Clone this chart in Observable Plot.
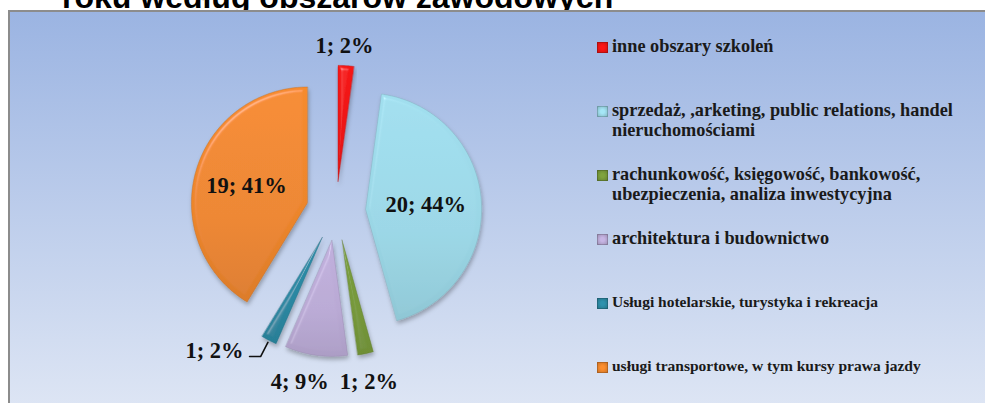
<!DOCTYPE html>
<html>
<head>
<meta charset="utf-8">
<script src="https://cdn.jsdelivr.net/npm/d3@7"></script>
<script src="https://cdn.jsdelivr.net/npm/@observablehq/plot@0.6"></script>
<style>
  html, body { margin: 0; padding: 0; }
  body { width: 985px; height: 403px; overflow: hidden; background: #ffffff; position: relative; }
  #title { position: absolute; left: 62px; top: -18.6px; font: bold 32px "Liberation Sans", Arial, sans-serif; line-height: 32px; white-space: nowrap; color: #000; }
  #box { position: absolute; left: 8px; top: 10px; width: 990px; height: 420px; box-sizing: border-box;
         border-left: 2px solid #8c8c8c; border-top: 2px solid #8c8c8c;
         background: linear-gradient(to bottom, #9bb4e2 0px, #dde5f4 393px); }
  #chart { position: absolute; left: 0; top: 0; }
  #legend { position: absolute; left: 597px; top: 35.6px; font-family: "Liberation Serif", "Times New Roman", serif; font-weight: bold; color: #1a1a1a; }
  .entry { height: 64px; display: flex; align-items: flex-start; }
  .swatch { width: 11px; height: 11px; margin-top: 6.4px; margin-right: 4px; flex: none; box-sizing: border-box; border: 1px solid rgba(0,0,0,0.2); }
  .lab { line-height: 20px; white-space: pre; }
</style>
</head>
<body>
<div id="title">roku według obszarów zawodowych</div>
<div id="box"></div>
<div id="chart"></div>
<div id="legend"></div>
<script>
// ---- data ----
const categories = [
  "inne obszary szkoleń",
  "sprzedaż, ,arketing, public relations, handel\nnieruchomościami",
  "rachunkowość, księgowość, bankowość,\nubezpieczenia, analiza inwestycyjna",
  "architektura i budownictwo",
  "Usługi hotelarskie, turystyka i rekreacja",
  "usługi transportowe, w tym kursy prawa jazdy"
];
const counts = [1, 20, 1, 4, 1, 19];
const percentLabels = ["2%", "44%", "2%", "9%", "2%", "41%"];
const colors = ["#ec1414", "#9ad6e5", "#76983a", "#b9a9d4", "#2b87a1", "#ec852c"];

// ---- layout / style (not data) ----
const explode = 0.256;                          // fraction of radius
const labelRadius = [1.17, 0.52, 1.24, 1.25, 1.157, 0.545];
const labelTurn = [-1.2, 0, 1, 5, 0, 0];          // degrees
const useLeader = [false, false, false, false, true, false];
const legendFontSizes = [18.3, 18.3, 18.3, 18.3, 15.5, 15.5];

const arcs = d3.pie().sort(null).value(d => d)(counts);
const slices = arcs.map((a, i) => {
  const mid = (a.startAngle + a.endAngle) / 2;
  const ox = explode * Math.sin(mid), oy = explode * Math.cos(mid);
  const pts = [{x: ox, y: oy}];
  const n = Math.max(3, Math.ceil((a.endAngle - a.startAngle) / (Math.PI / 180)));
  for (let k = 0; k <= n; k++) {
    const t = a.startAngle + (a.endAngle - a.startAngle) * k / n;
    pts.push({x: ox + Math.sin(t), y: oy + Math.cos(t)});
  }
  return {i, mid, ox, oy, pts};
});

const labels = [], leaderLabels = [], leaders = [];
slices.forEach(s => {
  const txt = `${counts[s.i]}; ${percentLabels[s.i]}`;
  const ang = s.mid + labelTurn[s.i] * Math.PI / 180;
  if (useLeader[s.i]) {
    const p0 = {x: s.ox + 1.02 * Math.sin(s.mid), y: s.oy + 1.02 * Math.cos(s.mid)};
    const p1 = {x: s.ox + labelRadius[s.i] * Math.sin(s.mid), y: s.oy + labelRadius[s.i] * Math.cos(s.mid)};
    const p2 = {x: p1.x - 0.095, y: p1.y};
    leaders.push(p0, p1, p2);
    leaderLabels.push({x: p2.x, y: p2.y, text: txt});
  } else {
    labels.push({x: s.ox + labelRadius[s.i] * Math.sin(ang), y: s.oy + labelRadius[s.i] * Math.cos(ang), text: txt});
  }
});

const cx = 335.5, cy = 210.5, R = 116;
const labelFont = {fontSize: 22.5, fontWeight: "bold", fontFamily: "'Liberation Serif', 'Times New Roman', serif", fill: "#111"};

const plot = Plot.plot({
  width: 985,
  height: 403,
  margin: 0,
  style: {background: "transparent", overflow: "visible"},
  x: {type: "linear", domain: [-1, 1], range: [cx - R, cx + R], axis: null},
  y: {type: "linear", domain: [-1, 1], range: [cy + R, cy - R], axis: null},
  marks: [
    ...slices.map(s => Plot.line(s.pts, {
      x: "x", y: "y", curve: "linear-closed",
      fill: `url(#grad${s.i})`, stroke: d3.color(colors[s.i]).darker(0.7).formatHex(), strokeWidth: 0.7, strokeOpacity: 0.55
    })),
    Plot.line(leaders, {x: "x", y: "y", stroke: "#111", strokeWidth: 1.6}),
    Plot.text(labels, {x: "x", y: "y", text: "text", ...labelFont}),
    Plot.text(leaderLabels, {x: "x", y: "y", text: "text", textAnchor: "end", dx: -6, dy: -6, ...labelFont})
  ]
});

// gradients + bevel + shadow
const svg = d3.select(plot);
const defs = svg.insert("defs", ":first-child");
colors.forEach((c, i) => {
  const g = defs.append("linearGradient").attr("id", `grad${i}`).attr("x1", 0).attr("y1", 0).attr("x2", 0).attr("y2", 1);
  g.append("stop").attr("offset", "0%").attr("stop-color", d3.color(c).brighter(0.12).formatHex());
  g.append("stop").attr("offset", "60%").attr("stop-color", c);
  g.append("stop").attr("offset", "100%").attr("stop-color", d3.color(c).darker(0.2).formatHex());
});
const f = defs.append("filter").attr("id", "bevel").attr("x", "-20%").attr("y", "-20%").attr("width", "140%").attr("height", "140%");
f.append("feGaussianBlur").attr("in", "SourceAlpha").attr("stdDeviation", 2.2).attr("result", "blur");
const spec = f.append("feSpecularLighting").attr("in", "blur").attr("surfaceScale", 4).attr("specularConstant", 0.55)
  .attr("specularExponent", 32).attr("lighting-color", "#ffffff").attr("result", "spec");
spec.append("feDistantLight").attr("azimuth", 235).attr("elevation", 42);
f.append("feComposite").attr("in", "spec").attr("in2", "SourceAlpha").attr("operator", "in").attr("result", "specIn");
f.append("feComposite").attr("in", "SourceGraphic").attr("in2", "specIn").attr("operator", "arithmetic")
  .attr("k1", 0).attr("k2", 1).attr("k3", 0.38).attr("k4", 0).attr("result", "lit");
f.append("feGaussianBlur").attr("in", "SourceAlpha").attr("stdDeviation", 2).attr("result", "sb");
f.append("feOffset").attr("in", "sb").attr("dx", 1).attr("dy", 2.5).attr("result", "so");
f.append("feFlood").attr("flood-color", "#000").attr("flood-opacity", 0.28).attr("result", "fl");
f.append("feComposite").attr("in", "fl").attr("in2", "so").attr("operator", "in").attr("result", "shadow");
const merge = f.append("feMerge");
merge.append("feMergeNode").attr("in", "shadow");
merge.append("feMergeNode").attr("in", "lit");
svg.selectAll('g[aria-label="line"]').filter((d, k) => k < slices.length).attr("filter", "url(#bevel)");

document.getElementById("chart").appendChild(plot);

// legend
const legend = d3.select("#legend");
categories.forEach((name, i) => {
  const e = legend.append("div").attr("class", "entry");
  e.append("div").attr("class", "swatch")
    .style("background", `radial-gradient(circle at 50% 50%, ${d3.color(colors[i]).brighter(0.2).formatHex()} 30%, ${d3.color(colors[i]).darker(0.35).formatHex()} 100%)`);
  e.append("div").attr("class", "lab").style("font-size", legendFontSizes[i] + "px").text(name);
});
</script>
</body>
</html>
